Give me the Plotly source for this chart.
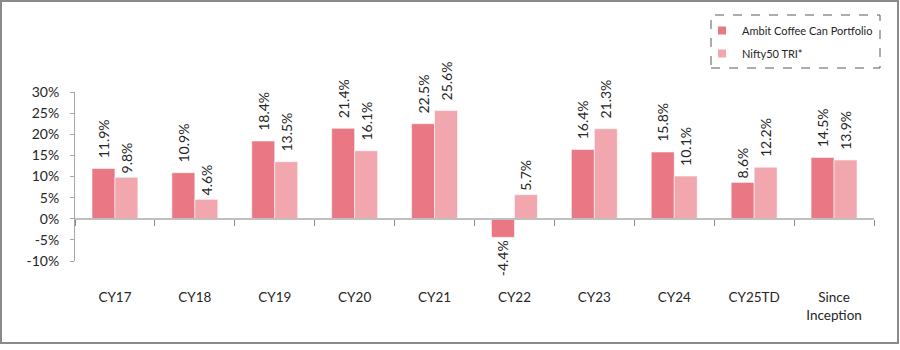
import plotly.graph_objects as go

categories = ["CY17", "CY18", "CY19", "CY20", "CY21", "CY22", "CY23", "CY24", "CY25TD", "Since<br>Inception"]
ambit = [11.9, 10.9, 18.4, 21.4, 22.5, -4.4, 16.4, 15.8, 8.6, 14.5]
nifty = [9.8, 4.6, 13.5, 16.1, 25.6, 5.7, 21.3, 10.1, 12.2, 13.9]
series_names = ["Ambit Coffee Can Portfolio", "Nifty50 TRI*"]
y_ticks = [-10, -5, 0, 5, 10, 15, 20, 25, 30]

C1 = "#E97884"
C2 = "#F2A7AF"
FONT = "Lato"
TXT = "#262626"
W, H = 900, 350
ML, MR, MT, MB = 75, 26, 92, 89
PW, PH = W - ML - MR, H - MT - MB


def px(x):
    return (x - ML) / PW


def py(y):
    return (H - MB - y) / PH


def lab(v):
    s = f"{v:.1f}%"
    pad = "\u00a0\u00a0" if len(s) >= 5 else "\u200a"
    return pad + s


fig = go.Figure()
for i, (name, vals, col) in enumerate([(series_names[0], ambit, C1), (series_names[1], nifty, C2)]):
    fig.add_trace(go.Bar(
        x=categories, y=vals, name=name, showlegend=False,
        marker=dict(color=col, line=dict(color="rgba(255,255,255,0.55)", width=1)),
        text=[lab(v) for v in vals], textposition="outside", textangle=-90,
        textfont=dict(family=FONT, size=14, color=TXT),
        cliponaxis=False, constraintext="none",
    ))
    fig.add_trace(go.Scatter(
        x=[None], y=[None], mode="markers", name=name, showlegend=True,
        legendgroup=f"g{i}",
        marker=dict(symbol="square", size=8, color=col),
    ))

fig.update_layout(
    width=W, height=H,
    margin=dict(l=ML, r=MR, t=MT, b=MB),
    paper_bgcolor="white", plot_bgcolor="white",
    barmode="group", bargap=0.425, bargroupgap=0,
    font=dict(family=FONT, color=TXT),
    legend=dict(
        x=px(702), y=py(16), xanchor="left", yanchor="top",
        font=dict(family=FONT, size=11, color=TXT),
        bgcolor="rgba(0,0,0,0)", borderwidth=0, tracegroupgap=4,
    ),
    xaxis=dict(
        type="category", anchor="free", position=0.25,
        showline=True, linecolor="#BFBFBF", linewidth=2,
        ticks="outside", tickson="boundaries", ticklen=6, tickcolor="#8C8C8C", tickwidth=1,
        ticklabelstandoff=66,
        tickfont=dict(family=FONT, size=13.5, color=TXT),
        showgrid=False, zeroline=False,
    ),
    yaxis=dict(
        range=[-10, 30], tickvals=y_ticks, ticktext=[f"{t}%" for t in y_ticks],
        showline=True, linecolor="#A6A6A6", linewidth=1,
        ticks="outside", ticklen=4, tickcolor="#A6A6A6",
        ticklabelstandoff=8,
        tickfont=dict(family=FONT, size=14, color=TXT),
        showgrid=False, zeroline=False,
    ),
    shapes=[
        dict(type="rect", xref="paper", yref="paper",
             x0=px(711), x1=px(880), y0=py(68), y1=py(15),
             line=dict(color="#595959", width=1, dash="dash")),
        dict(type="rect", xref="paper", yref="paper",
             x0=px(1), x1=px(898), y0=py(343), y1=py(1),
             line=dict(color="#8A8A8A", width=2)),
    ],
)

fig.write_html("out.html")
